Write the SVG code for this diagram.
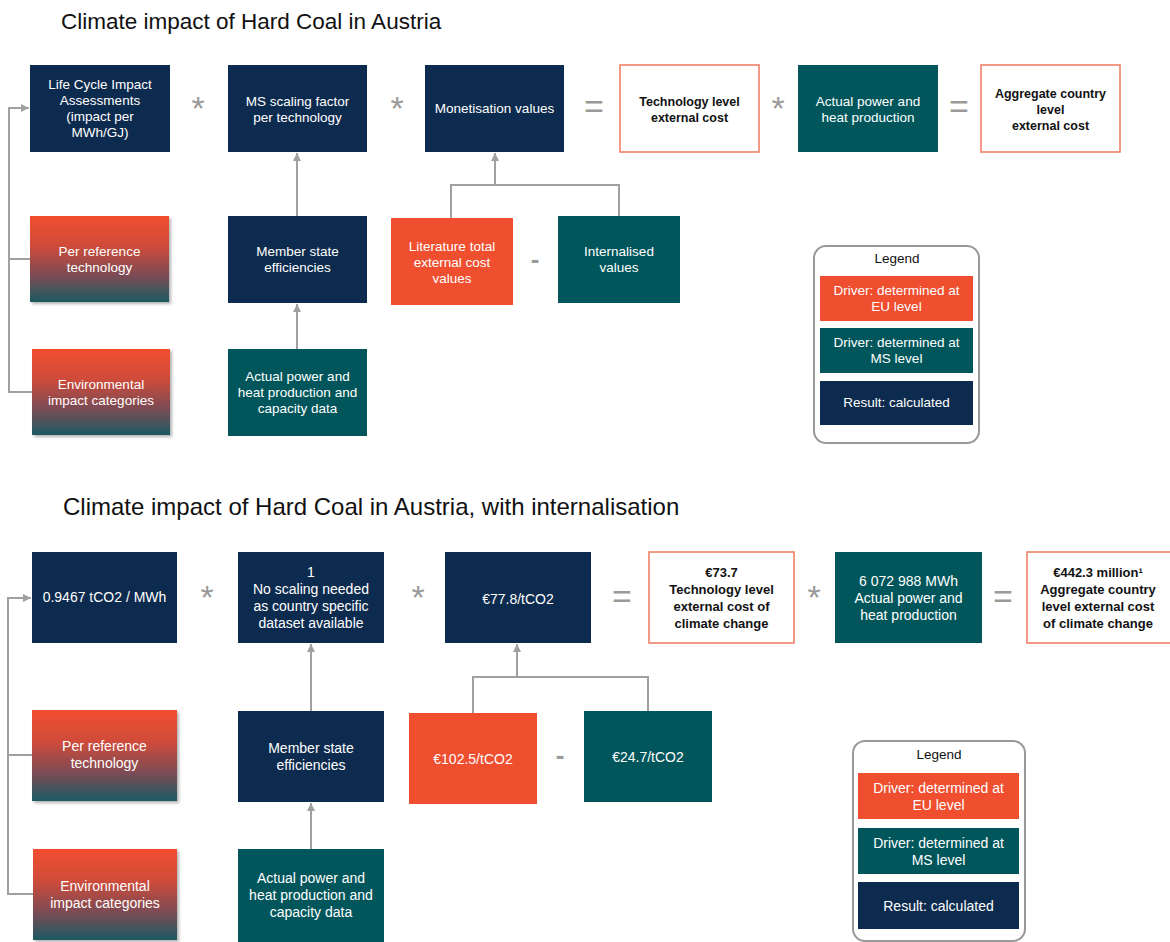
<svg xmlns="http://www.w3.org/2000/svg" width="1170" height="942" viewBox="0 0 1170 942">
<defs>
<linearGradient id="grad" x1="0" y1="0" x2="0" y2="1">
<stop offset="0" stop-color="#f24e2e"/>
<stop offset="0.35" stop-color="#cf4c3a"/>
<stop offset="0.7" stop-color="#7a4c55"/>
<stop offset="1" stop-color="#1b5a62"/>
</linearGradient>
<filter id="shadow" x="-10%" y="-10%" width="125%" height="125%">
<feDropShadow dx="2" dy="2" stdDeviation="1.5" flood-color="#000" flood-opacity="0.3"/>
</filter>
<marker id="arr" markerWidth="10" markerHeight="10" refX="8" refY="5" orient="auto" markerUnits="userSpaceOnUse">
<path d="M0,1 L8,5 L0,9 Z" fill="#a0a0a0"/>
</marker>
<style>
.navy{fill:#0d2b4e}
.teal{fill:#00565b}
.orange{fill:#ef4e2f}
.grad{fill:url(#grad);filter:url(#shadow)}
.res{fill:#fff;stroke:#f08068;stroke-width:1.6}
.t{font-family:"Liberation Sans",Arial,sans-serif;font-size:13.5px;fill:#fff;text-anchor:middle}
.t2{font-family:"Liberation Sans",Arial,sans-serif;font-size:14px;fill:#fff;text-anchor:middle}
.b{font-family:"Liberation Sans",Arial,sans-serif;font-size:12.5px;font-weight:bold;fill:#111;text-anchor:middle}
.b2{font-family:"Liberation Sans",Arial,sans-serif;font-size:13px;font-weight:bold;fill:#111;text-anchor:middle}
.title{font-family:"Liberation Sans",Arial,sans-serif;fill:#111}
.op{font-family:"Liberation Sans",Arial,sans-serif;font-size:34px;fill:#9a9a9a;text-anchor:middle}
.lg{font-family:"Liberation Sans",Arial,sans-serif;font-size:13.5px;fill:#111;text-anchor:middle}
.legbox{fill:#fff;stroke:#999;stroke-width:2}
.conn{fill:none;stroke:#a0a0a0;stroke-width:2}
</style>
</defs>

<text class="title" x="61" y="29" style="font-size:22.5px">Climate impact of Hard Coal in Austria</text>
<text class="title" x="63" y="515" style="font-size:24px">Climate impact of Hard Coal in Austria, with internalisation</text>

<g id="connectors">
<path class="conn" d="M32,392 H9 V108 H29" marker-end="url(#arr)"/>
<path class="conn" d="M30,259 H9"/>
<path class="conn" d="M297,216 V153" marker-end="url(#arr)"/>
<path class="conn" d="M297,349 V304" marker-end="url(#arr)"/>
<path class="conn" d="M451,218 V185 H619 V216"/>
<path class="conn" d="M495,185 V153" marker-end="url(#arr)"/>
<path class="conn" d="M33,894 H8 V598 H31" marker-end="url(#arr)"/>
<path class="conn" d="M32,755 H8"/>
<path class="conn" d="M311,711 V644" marker-end="url(#arr)"/>
<path class="conn" d="M311,849 V803" marker-end="url(#arr)"/>
<path class="conn" d="M473,713 V677 H648 V711"/>
<path class="conn" d="M517,677 V644" marker-end="url(#arr)"/>
</g>

<g id="operators">
<text class="op" x="198" y="120">*</text>
<text class="op" x="397" y="120">*</text>
<text class="op" x="594" y="118">=</text>
<text class="op" x="778" y="120">*</text>
<text class="op" x="959" y="118">=</text>
<text class="op" x="535" y="268" style="font-weight:bold;font-size:26px">-</text>
<text class="op" x="207" y="609">*</text>
<text class="op" x="418" y="609">*</text>
<text class="op" x="622" y="608">=</text>
<text class="op" x="814" y="609">*</text>
<text class="op" x="1003" y="608">=</text>
<text class="op" x="560" y="764" style="font-weight:bold;font-size:26px">-</text>
</g>

<!-- Top diagram -->
<g id="lcia">
<rect class="navy" x="30" y="65" width="140" height="87"/>
<text class="t" x="100" y="89">Life Cycle Impact</text>
<text class="t" x="100" y="105">Assessments</text>
<text class="t" x="100" y="121">(impact per</text>
<text class="t" x="100" y="137">MWh/GJ)</text>
</g>
<g id="ms-scaling">
<rect class="navy" x="228" y="65" width="139" height="87"/>
<text class="t" x="297.5" y="105.5">MS scaling factor</text>
<text class="t" x="297.5" y="121.5">per technology</text>
</g>
<g id="monetisation">
<rect class="navy" x="425" y="65" width="139" height="87"/>
<text class="t" x="494.5" y="113">Monetisation values</text>
</g>
<g id="tech-cost">
<rect class="res" x="620" y="65" width="139" height="87"/>
<text class="b" x="689.5" y="105.5">Technology level</text>
<text class="b" x="689.5" y="121.5">external cost</text>
</g>
<g id="actual-prod">
<rect class="teal" x="798" y="65" width="140" height="87"/>
<text class="t" x="868" y="105.5">Actual power and</text>
<text class="t" x="868" y="121.5">heat production</text>
</g>
<g id="aggregate">
<rect class="res" x="981" y="65" width="139" height="87"/>
<text class="b" x="1050.5" y="97.5">Aggregate country</text>
<text class="b" x="1050.5" y="113.5">level</text>
<text class="b" x="1050.5" y="129.5">external cost</text>
</g>
<g id="per-ref">
<rect class="grad" x="30" y="216" width="139" height="86"/>
<text class="t" x="99.5" y="255.5">Per reference</text>
<text class="t" x="99.5" y="271.5">technology</text>
</g>
<g id="ms-eff">
<rect class="navy" x="228" y="216" width="139" height="87"/>
<text class="t" x="297.5" y="256">Member state</text>
<text class="t" x="297.5" y="272">efficiencies</text>
</g>
<g id="literature">
<rect class="orange" x="391" y="218" width="122" height="87"/>
<text class="t" x="452" y="251">Literature total</text>
<text class="t" x="452" y="267">external cost</text>
<text class="t" x="452" y="283">values</text>
</g>
<g id="internalised">
<rect class="teal" x="558" y="216" width="122" height="87"/>
<text class="t" x="619" y="256">Internalised</text>
<text class="t" x="619" y="272">values</text>
</g>
<g id="env-cat">
<rect class="grad" x="32" y="349" width="138" height="86"/>
<text class="t" x="101" y="388.5">Environmental</text>
<text class="t" x="101" y="404.5">impact categories</text>
</g>
<g id="capacity">
<rect class="teal" x="228" y="349" width="139" height="87"/>
<text class="t" x="297.5" y="381">Actual power and</text>
<text class="t" x="297.5" y="397">heat production and</text>
<text class="t" x="297.5" y="413">capacity data</text>
</g>
<g id="legend-top">
<rect class="legbox" x="814" y="246" width="165" height="197" rx="12"/>
<text class="lg" x="897" y="262.5">Legend</text>
<rect class="orange" x="820" y="276" width="153" height="45"/>
<text class="t" x="896.5" y="295">Driver: determined at</text>
<text class="t" x="896.5" y="311">EU level</text>
<rect class="teal" x="820" y="328" width="153" height="45"/>
<text class="t" x="896.5" y="347">Driver: determined at</text>
<text class="t" x="896.5" y="363">MS level</text>
<rect class="navy" x="820" y="381" width="153" height="44"/>
<text class="t" x="896.5" y="407">Result: calculated</text>
</g>

<!-- Bottom diagram -->
<g id="b-lcia">
<rect class="navy" x="32" y="552" width="145" height="91"/>
<text class="t2" x="104.5" y="602">0.9467 tCO2 / MWh</text>
</g>
<g id="b-ms-scaling">
<rect class="navy" x="238" y="552" width="146" height="91"/>
<text class="t2" x="311" y="577">1</text>
<text class="t2" x="311" y="594">No scaling needed</text>
<text class="t2" x="311" y="611">as country specific</text>
<text class="t2" x="311" y="628">dataset available</text>
</g>
<g id="b-monetisation">
<rect class="navy" x="445" y="552" width="146" height="91"/>
<text class="t2" x="518" y="604">€77.8/tCO2</text>
</g>
<g id="b-tech-cost">
<rect class="res" x="649" y="552" width="145" height="91"/>
<text class="b2" x="721.5" y="577">€73.7</text>
<text class="b2" x="721.5" y="594">Technology level</text>
<text class="b2" x="721.5" y="611">external cost of</text>
<text class="b2" x="721.5" y="628">climate change</text>
</g>
<g id="b-actual-prod">
<rect class="teal" x="835" y="552" width="147" height="91"/>
<text class="t2" x="908.5" y="586">6 072 988 MWh</text>
<text class="t2" x="908.5" y="603">Actual power and</text>
<text class="t2" x="908.5" y="620">heat production</text>
</g>
<g id="b-aggregate">
<rect class="res" x="1027" y="552" width="145" height="91"/>
<text class="b2" x="1098" y="577">€442.3 million¹</text>
<text class="b2" x="1098" y="594">Aggregate country</text>
<text class="b2" x="1098" y="611">level external cost</text>
<text class="b2" x="1098" y="628">of climate change</text>
</g>
<g id="b-per-ref">
<rect class="grad" x="32" y="710" width="145" height="91"/>
<text class="t2" x="104.5" y="751">Per reference</text>
<text class="t2" x="104.5" y="768">technology</text>
</g>
<g id="b-ms-eff">
<rect class="navy" x="238" y="711" width="146" height="91"/>
<text class="t2" x="311" y="753">Member state</text>
<text class="t2" x="311" y="770">efficiencies</text>
</g>
<g id="b-literature">
<rect class="orange" x="409" y="713" width="128" height="91"/>
<text class="t2" x="473" y="764">€102.5/tCO2</text>
</g>
<g id="b-internalised">
<rect class="teal" x="584" y="711" width="128" height="91"/>
<text class="t2" x="648" y="762">€24.7/tCO2</text>
</g>
<g id="b-env-cat">
<rect class="grad" x="33" y="849" width="144" height="91"/>
<text class="t2" x="105" y="891">Environmental</text>
<text class="t2" x="105" y="908">impact categories</text>
</g>
<g id="b-capacity">
<rect class="teal" x="238" y="849" width="146" height="93"/>
<text class="t2" x="311" y="883">Actual power and</text>
<text class="t2" x="311" y="900">heat production and</text>
<text class="t2" x="311" y="917">capacity data</text>
</g>
<g id="legend-bottom">
<rect class="legbox" x="853" y="741" width="172" height="200" rx="12"/>
<text class="lg" x="939" y="759">Legend</text>
<rect class="orange" x="858" y="773" width="161" height="46"/>
<text class="t2" x="938.5" y="793">Driver: determined at</text>
<text class="t2" x="938.5" y="810">EU level</text>
<rect class="teal" x="858" y="828" width="161" height="46"/>
<text class="t2" x="938.5" y="848">Driver: determined at</text>
<text class="t2" x="938.5" y="865">MS level</text>
<rect class="navy" x="858" y="882" width="161" height="47"/>
<text class="t2" x="938.5" y="911">Result: calculated</text>
</g>
</svg>
